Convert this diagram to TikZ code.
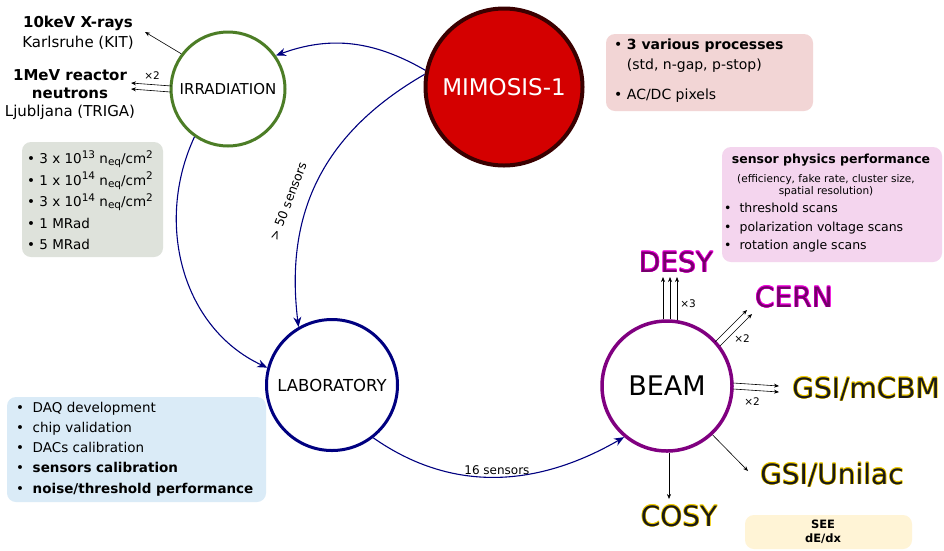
\documentclass[tikz,border=0pt]{standalone}
\usepackage{fontspec}
\setmainfont{DejaVu Sans}
\usetikzlibrary{arrows.meta,calc}
\definecolor{irrgreen}{HTML}{4C7D26}
\definecolor{navyc}{HTML}{000080}
\definecolor{beampurple}{HTML}{800080}
\definecolor{mimred}{HTML}{D40000}
\definecolor{mimdark}{HTML}{3A0000}
\definecolor{pinkbg}{HTML}{F2D5D5}
\definecolor{graybg}{HTML}{DEE2DB}
\definecolor{bluebg}{HTML}{DAEBF7}
\definecolor{physbg}{HTML}{F4D5EE}
\definecolor{yellowbg}{HTML}{FFF4D6}
\definecolor{magglow}{HTML}{F000DC}
\definecolor{magcore}{HTML}{74006A}
\definecolor{yelglow}{HTML}{F2CC00}
\definecolor{yelcore}{HTML}{1A1A1A}
\newcommand\fsz[2]{\fontsize{#1}{#2}\selectfont}
\newcommand\glowit[3]{\leavevmode
 \rlap{\color{#1}\kern-.55pt#3}%
 \rlap{\color{#1}\kern.55pt#3}%
 \rlap{\color{#1}\raisebox{.55pt}{#3}}%
 \rlap{\color{#1}\raisebox{-.55pt}{#3}}%
 \rlap{\color{#1}\kern-.4pt\raisebox{.4pt}{#3}}%
 \rlap{\color{#1}\kern.4pt\raisebox{.4pt}{#3}}%
 \rlap{\color{#1}\kern-.4pt\raisebox{-.4pt}{#3}}%
 \rlap{\color{#1}\kern.4pt\raisebox{-.4pt}{#3}}%
 {\color{#2}#3}}
\newcommand\supx[1]{\raisebox{5.5pt}{\fsz{10.5}{12}#1}}
\newcommand\subx[1]{\raisebox{-2pt}{\fsz{10.5}{12}#1}}
\newcommand\flux[2]{•~#1 x 10\supx{#2} n\subx{eq}/cm\supx{2}}
\tikzset{
 boxst/.style={rounded corners=9pt, inner sep=0pt, draw=none},
 ring/.style={circle, inner sep=0pt, fill=white},
 blkarrow/.style={-{Stealth[length=5pt,width=4pt]}, line width=0.6pt, draw=black},
 multiarrow/.style={-{Stealth[length=5pt,width=4pt]}, line width=0.6pt, draw=black},
 navyarrow/.style={-{Stealth[length=10pt,width=8pt]}, line width=1.1pt, draw=navyc},
 lbl/.style={font=\fsz{10.5}{12}, inner sep=0pt},
 txt/.style={inner sep=0pt, align=left, anchor=west},
 site/.style={inner sep=0pt, font=\fsz{28}{32}},
}
\begin{document}
\begin{tikzpicture}[x=1pt,y=1pt]
\fill[white] (0,0) rectangle (944,-550);
\useasboundingbox (0,0) rectangle (944,-550);

% boxes
\node[boxst, fill=pinkbg, minimum width=207pt, minimum height=77pt] (procbox) at (709.5,-72.5) {};
\node[boxst, fill=graybg, minimum width=141pt, minimum height=115pt] (dosebox) at (92.5,-199.5) {};
\node[boxst, fill=bluebg, minimum width=259pt, minimum height=105pt] (labbox) at (136.5,-449.5) {};
\node[boxst, fill=physbg, minimum width=220pt, minimum height=115pt] (physbox) at (832,-204.5) {};
\node[boxst, fill=yellowbg, minimum width=167pt, minimum height=34pt] (seebox) at (828.5,-532) {};

% box texts
\node[txt, font=\fsz{14}{20}] (proctxt) at (614,-71)
 {•~\textbf{3 various processes}\\ \phantom{•~}(std, n-gap, p-stop)\\[10pt] •~AC/DC pixels};
\node[txt, font=\fsz{13.5}{21.5}] (dosetxt) at (27,-200)
 {\flux{3}{13}\\ \flux{1}{14}\\ \flux{3}{14}\\ •~1 MRad\\ •~5 MRad};
\node[txt, font=\fsz{13.5}{20.2}] (labtxt) at (16,-449)
 {•~~DAQ development\\ •~~chip validation\\ •~~DACs calibration\\ •~~\textbf{sensors calibration}\\ •~~\textbf{noise/threshold performance}};
\node[inner sep=0pt, font=\bfseries\fsz{12.5}{15}] (physhead) at (831,-160) {sensor physics performance};
\node[inner sep=0pt, align=center, font=\fsz{10.5}{12}] (physsub) at (826,-186) {(efficiency, fake rate, cluster size,\\ spatial resolution)};
\node[txt, font=\fsz{12.5}{18.5}] (physlist) at (724,-228)
 {•\hspace{8pt}threshold scans\\ •\hspace{8pt}polarization voltage scans\\ •\hspace{8pt}rotation angle scans};
\node[inner sep=0pt, align=center, font=\bfseries\fsz{11.5}{14.5}] (seetxt) at (823,-532) {SEE\\ dE/dx};

% circles
\node[ring, draw=irrgreen, line width=3pt, minimum size=114pt, font=\fsz{15}{18}] (irr) at (228,-89) {IRRADIATION};
\node[circle, inner sep=0pt, fill=mimred, draw=mimdark, line width=4pt, minimum size=157pt, text=white, font=\fsz{23}{26}] (mim) at (504,-87) {MIMOSIS-1};
\node[ring, draw=navyc, line width=3pt, minimum size=131pt, font=\fsz{16.5}{19}] (lab) at (332,-385) {LABORATORY};
\node[ring, draw=beampurple, line width=3.5pt, minimum size=130pt, font=\fsz{27}{30}] (beam) at (667,-386) {BEAM};

% irradiation targets
\node[inner sep=0pt, align=center, font=\fsz{15}{20}] (xray) at (78,-33) {\textbf{10keV X-rays}\\ Karlsruhe (KIT)};
\node[inner sep=0pt, align=center, font=\fsz{15}{18}] (neut) at (70,-95) {\textbf{1MeV reactor}\\ \textbf{neutrons}\\ Ljubljana (TRIGA)};
\coordinate (xrayend) at (145,-32);
\coordinate (neutend) at (131,-86);
\draw[blkarrow] (irr.143) -- (xrayend);
\draw[multiarrow] ($(irr.west)+(2,3)$) -- ($(neutend)+(0,3)$);
\draw[multiarrow] ($(irr.west)+(1,-3)$) -- ($(neutend)+(0,-3)$);
\node[lbl] (neutx) at (152,-76) {×2};

% navy flows
\draw[navyarrow] (mim.168) to[out=150, in=20] (irr.35);
\draw[navyarrow] (mim.171) to[out=-150, in=97, looseness=1.05] (lab.120);
\node[inner sep=0pt, rotate=69, font=\fsz{12.5}{15}] (fiftylbl) at (288,-201) {> 50 sensors};
\draw[navyarrow] (irr.235) to[out=-115, in=155] (lab.165);
\draw[navyarrow] (lab.-52) to[out=-35, in=-150] node[pos=0.5, above=2pt, inner sep=0pt, text=black, font=\fsz{12}{14}] (sixteenlbl) {16 sensors} (beam.230);

% beam sites
\node[site] (desy) at (676,-262) {\glowit{magglow}{magcore}{DESY}};
\node[site] (cern) at (794,-297) {\glowit{magglow}{magcore}{CERN}};
\node[site] (mcbm) at (866,-389) {\glowit{yelglow}{yelcore}{GSI/mCBM}};
\node[site] (unilac) at (832,-475) {\glowit{yelglow}{yelcore}{GSI/Unilac}};
\node[site] (cosy) at (679,-516) {\glowit{yelglow}{yelcore}{COSY}};

\coordinate (desyend) at (670,-277);
\draw[multiarrow] ($(beam.north)+(-4,0)$) -- ($(desyend)+(-7,0)$);
\draw[multiarrow] ($(beam.north)+(3,0)$) -- (desyend);
\draw[multiarrow] ($(beam.north)+(10,-0.5)$) -- ($(desyend)+(7,0)$);
\node[lbl] (desyx) at (688,-304) {×3};

\coordinate (cernend) at (750,-312);
\draw[multiarrow] ($(beam.45)+(1,-3)$) -- ($(cernend)+(-3,2)$);
\draw[multiarrow] ($(beam.45)+(6,-7)$) -- ($(cernend)+(2,-2)$);
\node[lbl] (cernx) at (742,-339) {×2};

\coordinate (mcbmend) at (779,-389);
\draw[multiarrow] ($(beam.east)+(-0.5,3)$) -- ($(mcbmend)+(0,3)$);
\draw[multiarrow] ($(beam.east)+(-0.5,-3)$) -- ($(mcbmend)+(0,-3)$);
\node[lbl] (mcbmx) at (752,-402) {×2};

\coordinate (unilacend) at (748,-471);
\draw[blkarrow] (beam.-47) -- (unilacend);
\coordinate (cosyend) at (669,-499);
\draw[blkarrow] ($(beam.south)+(2,0)$) -- (cosyend);
\end{tikzpicture}
\end{document}
